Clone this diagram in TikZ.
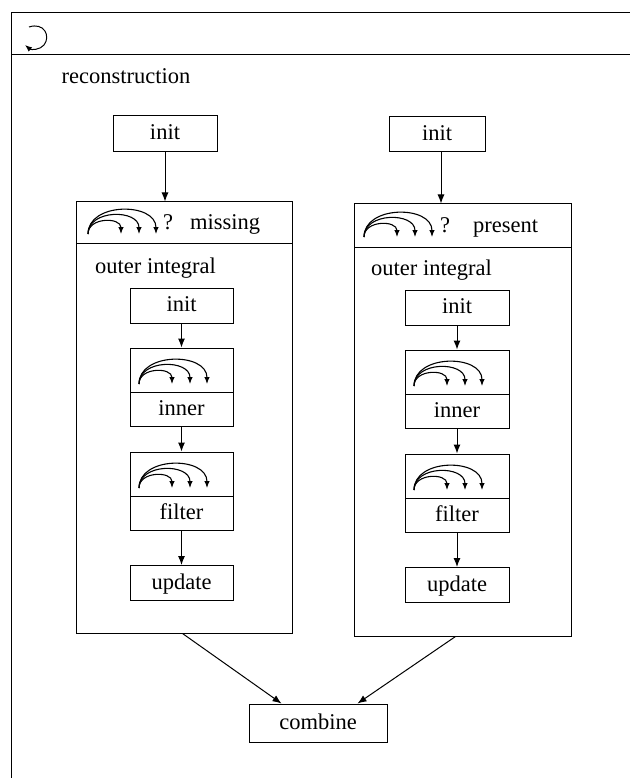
\documentclass[tikz,border=0pt]{standalone}
\usepackage{fontspec}
\setmainfont{Liberation Serif}
\usetikzlibrary{arrows.meta}
\tikzset{
  lbl/.style={font=\fontsize{22.5bp}{27bp}\selectfont, inner sep=0pt, text height=16bp, text depth=4bp},
  box/.style={draw, line width=1bp, inner sep=0pt},
  conn/.style={line width=1bp, -{Latex[length=9bp,width=7bp]}},
  fanarr/.style={line width=1.1bp, -{Latex[length=7bp,width=5.5bp]}},
  fan/.pic={
    \draw[fanarr] (0,0) .. controls (0,-17) and (33,-17) .. (33,0);
    \draw[fanarr] (0,0) .. controls (0,-25) and (51,-25) .. (51,0);
    \draw[fanarr] (0,0) .. controls (0,-32) and (68,-32) .. (68,0);
  }
}
\begin{document}
\begin{tikzpicture}[x=1bp,y=-1bp]
\useasboundingbox (0,0) rectangle (630,778);
\clip (0,0) rectangle (630,778);
% frame
\draw[line width=1bp] (11,800) -- (11,13) -- (640,13);
\draw[line width=1bp] (11,55) -- (640,55);
\draw[line width=1bp, -{Latex[length=7bp,width=5.5bp]}] (29,27) .. controls (44,22) and (51,36) .. (44,45) .. controls (40,50) and (31,50) .. (25,45);
\node[lbl] (title) at (126,77) {reconstruction};

% ---------- left column ----------
\node[box, lbl, minimum width=104bp, minimum height=36bp] (tinitL) at (165,133) {init};
\node[box, minimum width=215bp, minimum height=431bp] (outL) at (184.5,417.5) {};
\draw[line width=1bp] (77,243) -- (292,243);
\pic at (88,234) {fan};
\node[lbl] (qL) at (168,223) {?};
\node[lbl, anchor=west] (missL) at (190,223) {missing};
\node[lbl, anchor=west] (oiL) at (95,267) {outer integral};
\node[box, lbl, minimum width=103bp, minimum height=35bp] (iinitL) at (181.5,305.5) {init};
\node[box, minimum width=103bp, minimum height=78bp] (innerL) at (181.5,387) {};
\draw[line width=1bp] (130,392) -- (233,392);
\pic at (139,384) {fan};
\node[lbl] (innerLt) at (181.5,409) {inner};
\node[box, minimum width=103bp, minimum height=78bp] (filtL) at (181.5,491) {};
\draw[line width=1bp] (130,496) -- (233,496);
\pic at (139,488) {fan};
\node[lbl] (filtLt) at (181.5,513) {filter};
\node[box, lbl, minimum width=103bp, minimum height=35bp] (updL) at (181.5,583) {update};
\draw[conn] (tinitL.south) -- (tinitL.south |- outL.north);
\draw[conn] (iinitL.south) -- (innerL.north);
\draw[conn] (innerL.south) -- (filtL.north);
\draw[conn] (filtL.south) -- (updL.north);

% ---------- right column ----------
\node[box, lbl, minimum width=96bp, minimum height=35bp] (tinitR) at (437,134) {init};
\node[box, minimum width=217bp, minimum height=432bp] (outR) at (462.5,420) {};
\draw[line width=1bp] (354,247) -- (571,247);
\pic at (364,237) {fan};
\node[lbl] (qR) at (445,226) {?};
\node[lbl, anchor=west] (presR) at (473,226) {present};
\node[lbl, anchor=west] (oiR) at (371,269) {outer integral};
\node[box, lbl, minimum width=104bp, minimum height=35bp] (iinitR) at (457,307.5) {init};
\node[box, minimum width=104bp, minimum height=78bp] (innerR) at (457,389) {};
\draw[line width=1bp] (405,394) -- (509,394);
\pic at (414,386) {fan};
\node[lbl] (innerRt) at (457,411) {inner};
\node[box, minimum width=104bp, minimum height=78bp] (filtR) at (457,493) {};
\draw[line width=1bp] (405,498) -- (509,498);
\pic at (414,490) {fan};
\node[lbl] (filtRt) at (457,515) {filter};
\node[box, lbl, minimum width=104bp, minimum height=35bp] (updR) at (457,585) {update};
\coordinate (tinitRb) at ([xshift=4bp]tinitR.south);
\draw[conn] (tinitRb) -- (tinitRb |- outR.north);
\draw[conn] (iinitR.south) -- (innerR.north);
\draw[conn] (innerR.south) -- (filtR.north);
\draw[conn] (filtR.south) -- (updR.north);

% ---------- combine ----------
\node[box, lbl, minimum width=138bp, minimum height=38bp] (comb) at (318,723) {combine};
\coordinate (cinL) at ([xshift=33bp]comb.north west);
\coordinate (cinR) at ([xshift=-30bp]comb.north east);
\coordinate (outLb) at ([xshift=-2bp]outL.south);
\coordinate (outRb) at ([xshift=-7bp]outR.south);
\draw[conn] (outLb) -- (cinL);
\draw[conn] (outRb) -- (cinR);
\end{tikzpicture}
\end{document}
